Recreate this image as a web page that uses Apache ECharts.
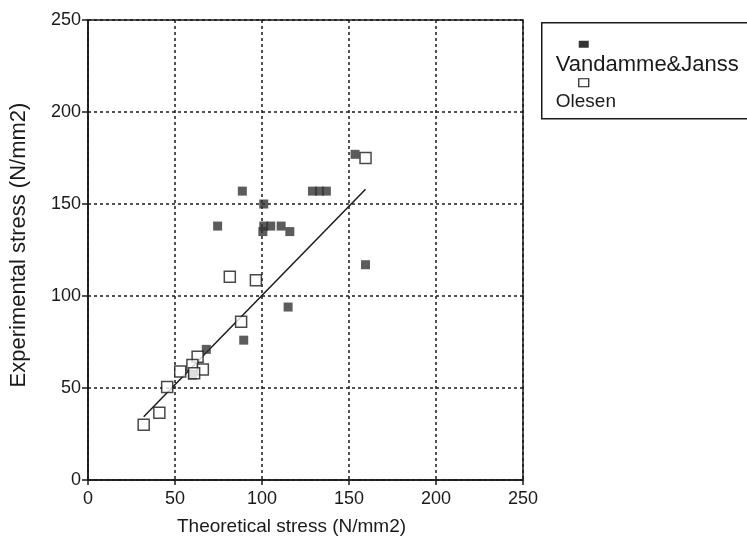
<!DOCTYPE html>
<html>
<head>
<meta charset="utf-8">
<script src="https://cdn.jsdelivr.net/npm/echarts@6/dist/echarts.min.js"></script>
<style>
  html, body { margin: 0; padding: 0; background: #fff; }
  #chart { width: 747px; height: 542px; }
</style>
</head>
<body>
<div id="chart"></div>
<script>
// values
const vandamme = [
  [88.7, 157], [101, 150], [129, 157], [133, 157], [137, 157],
  [74.5, 138], [101, 138], [105, 138], [100.5, 135], [111, 138], [116, 135],
  [153.5, 177], [159.5, 117], [115, 94], [89.5, 76], [68, 71], [60, 57]
];
const olesen = [
  [159.5, 175], [81.5, 110.5], [96.5, 108.5], [88, 86], [63, 67],
  [60, 62.5], [66, 60], [53, 59], [61, 58], [45.5, 50.5], [41, 36.5], [32, 30]
];
const fitLine = [[32, 34.4], [159.5, 158]];
const ticks = [0, 50, 100, 150, 200, 250];

const font = '"Liberation Sans", Arial, sans-serif';
const ink = '#1a1a1a';
const chart = echarts.init(document.getElementById('chart'));

chart.setOption({
  animation: false,
  backgroundColor: '#fff',
  grid: {
    left: 87, right: 224, top: 20, bottom: 62,
    show: true, borderColor: ink, borderWidth: 1.5
  },
  xAxis: {
    type: 'value', min: ticks[0], max: ticks[ticks.length - 1], interval: 50,
    name: 'Theoretical stress (N/mm2)', nameLocation: 'middle', nameGap: 37,
    nameTextStyle: { fontFamily: font, fontSize: 19, color: ink, padding: [0, 28, 0, 0] },
    axisLine: { lineStyle: { color: ink, width: 1.5 } },
    axisTick: { length: 5, lineStyle: { color: ink, width: 1.5 } },
    axisLabel: { fontFamily: font, fontSize: 18, color: ink, margin: 10 },
    splitLine: { lineStyle: { color: ink, type: [3, 3], width: 1.5 } }
  },
  yAxis: {
    type: 'value', min: ticks[0], max: ticks[ticks.length - 1], interval: 50,
    name: 'Experimental stress (N/mm2)', nameLocation: 'middle', nameGap: 58,
    nameTextStyle: { fontFamily: font, fontSize: 22, color: ink, padding: [0, 0, 0, 10] },
    axisLine: { show: true, lineStyle: { color: ink, width: 1.5 } },
    axisTick: { show: true, length: 6, lineStyle: { color: ink, width: 1.5 } },
    axisLabel: { fontFamily: font, fontSize: 18, color: ink, margin: 7 },
    splitLine: { lineStyle: { color: ink, type: [3, 3], width: 1.5 } }
  },
  series: [
    {
      name: 'fit', type: 'line', data: fitLine, symbol: 'none',
      lineStyle: { color: ink, width: 1.5 }, z: 3
    },
    {
      name: 'Vandamme&Janss', type: 'scatter', data: vandamme,
      symbol: 'rect', symbolSize: 9,
      itemStyle: { color: '#333' }, z: 4
    },
    {
      name: 'Olesen', type: 'scatter', data: olesen,
      symbol: 'rect', symbolSize: 11,
      itemStyle: { color: '#fff', borderColor: ink, borderWidth: 1.5 }, z: 5
    }
  ],
  graphic: [
    {
      type: 'group', left: 541, top: 22,
      children: [
        { type: 'rect', shape: { x: 0, y: 0, width: 240, height: 96 },
          style: { fill: '#fff', stroke: ink, lineWidth: 1.5 } },
        { type: 'rect', shape: { x: 37, y: 18, width: 10, height: 7 },
          style: { fill: '#333' } },
        { type: 'text', x: 14, y: 31,
          style: { text: 'Vandamme&Janss', font: '22px ' + font, fill: ink } },
        { type: 'rect', shape: { x: 37, y: 56, width: 10, height: 8 },
          style: { fill: '#fff', stroke: ink, lineWidth: 1.2 } },
        { type: 'text', x: 14, y: 70,
          style: { text: 'Olesen', font: '19px ' + font, fill: ink } }
      ]
    }
  ]
});
</script>
</body>
</html>
